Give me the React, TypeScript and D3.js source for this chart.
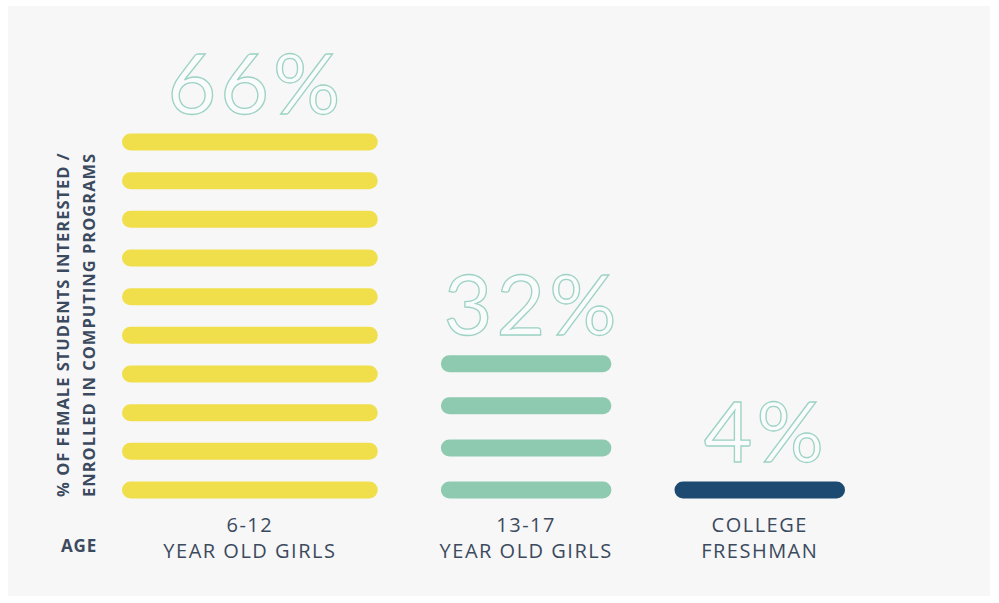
import React from "react";
import * as d3 from "d3";

const categories = ["6-12|YEAR OLD GIRLS", "13-17|YEAR OLD GIRLS", "COLLEGE|FRESHMAN"];
const values = [66, 32, 4];
const barCounts = [10, 4, 1];
const widthWeights = [1.5, 1, 1];
const valueLabels = ["66%", "32%", "4%"];
const barColors = ["#f0df4a", "#8ecab0", "#1c4a70"];
const yAxisLabel = ["% OF FEMALE STUDENTS INTERESTED /", "ENROLLED IN COMPUTING PROGRAMS"];
const xAxisLabel = "AGE";

const W = 999;
const H = 603;

export default function App() {
  const gapUnits = 0.37;
  const totalUnits = d3.sum(widthWeights) + gapUnits * (widthWeights.length - 1);
  const x = d3.scaleLinear().domain([0, totalUnits]).range([122, 845]);
  const starts: number[] = [];
  let acc = 0;
  widthWeights.forEach((w) => {
    starts.push(acc);
    acc += w + gapUnits;
  });
  const baseline = 490;
  const stackScale = d3.scalePow().exponent(1.4).domain([0, 66]).range([0, 348]);
  const barH = 17;
  const textColor = "#3b4a5e";
  const font = "'Open Sans', Lato, sans-serif";

  return (
    <svg width={W} height={H} style={{ position: "absolute", left: 0, top: 0 }} fontFamily={font}>
      <rect x={0} y={0} width={W} height={H} fill="#ffffff" />
      <rect x={8} y={6} width={982} height={590} fill="#f7f7f7" />
      {categories.map((c, i) => {
        const x0 = x(starts[i]);
        const x1 = x(starts[i] + widthWeights[i]);
        const n = barCounts[i];
        const span = n > 1 ? stackScale(values[i]) : 0;
        const ys = d3.range(n).map((k) => (n > 1 ? baseline - (span * k) / (n - 1) : baseline));
        const topY = d3.min(ys) as number;
        const cx = (x0 + x1) / 2;
        const lines = c.split("|");
        return (
          <g key={c}>
            {ys.map((yy, k) => (
              <rect
                key={k}
                x={x0}
                y={yy - barH / 2}
                width={x1 - x0}
                height={barH}
                rx={barH / 2}
                fill={barColors[i]}
              />
            ))}
            <text
              x={cx + 6}
              y={topY - barH / 2 - 20}
              textAnchor="middle"
              fontFamily="Lato, sans-serif"
              fontSize={84}
              fontWeight={400}
              letterSpacing={4}
              fill="#f9fcfb"
              stroke="#9dd2c4"
              strokeWidth={1.3}
            >
              {valueLabels[i]}
            </text>
            {lines.map((l, k) => (
              <text
                key={k}
                x={cx}
                y={532 + k * 25.5}
                textAnchor="middle"
                fontSize={20}
                fill={textColor}
                letterSpacing={1.5}
              >
                {l}
              </text>
            ))}
          </g>
        );
      })}
      {yAxisLabel.map((l, k) => (
        <text
          key={l}
          transform={`translate(${69 + k * 26},497) rotate(-90)`}
          textAnchor="start"
          fontSize={16.5}
          fontWeight={700}
          letterSpacing={1}
          fill={textColor}
        >
          {l}
        </text>
      ))}
      <text x={79} y={552} textAnchor="middle" fontSize={17} fontWeight={700} letterSpacing={0.8} fill={textColor}>
        {xAxisLabel}
      </text>
    </svg>
  );
}
